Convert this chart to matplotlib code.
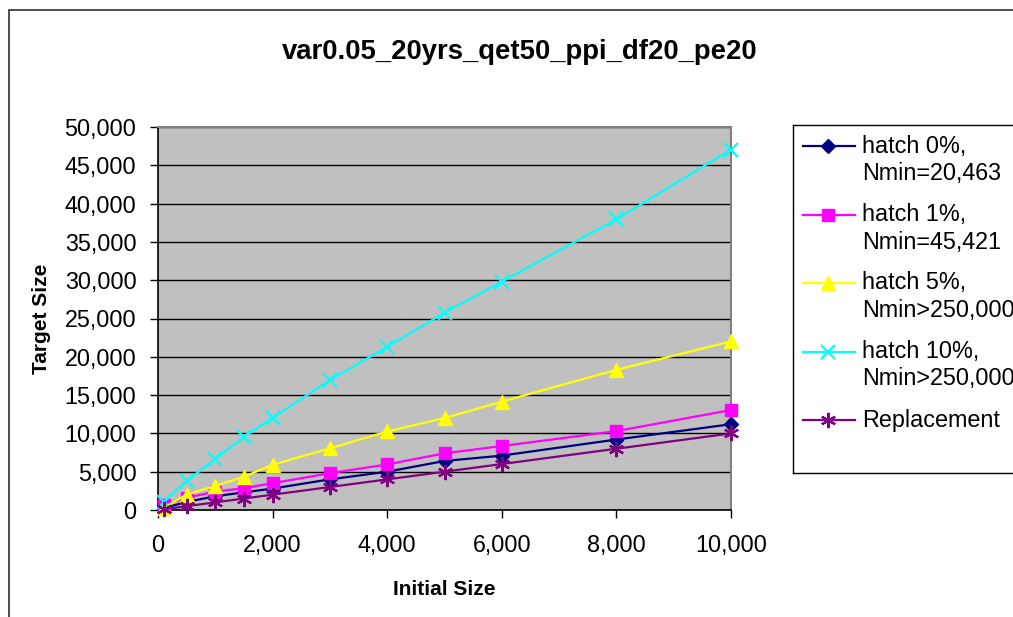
import matplotlib
matplotlib.use("Agg")
import matplotlib.pyplot as plt
from matplotlib.patches import Rectangle
from matplotlib.ticker import FuncFormatter, MultipleLocator

plt.rcParams["font.family"] = ["Liberation Sans", "DejaVu Sans"]

TITLE = "var0.05_20yrs_qet50_ppi_df20_pe20"

initial_size = [100, 500, 1000, 1500, 2000, 3000, 4000, 5000, 6000, 8000, 10000]
hatch_0 = [250, 1050, 1800, 2300, 2800, 4000, 5000, 6400, 7100, 9200, 11200]
hatch_1 = [600, 1600, 2400, 2850, 3500, 4800, 5950, 7400, 8350, 10300, 13050]
hatch_5 = [300, 2000, 3150, 4350, 5900, 8050, 10250, 12000, 14150, 18300, 22000]
hatch_10 = [1050, 3800, 6650, 9550, 12050, 16950, 21300, 25750, 29800, 37950, 47050]
replacement = [100, 500, 1000, 1500, 2000, 3000, 4000, 5000, 6000, 8000, 10000]

labels = [
    ("hatch 0%,", "Nmin=20,463"),
    ("hatch 1%,", "Nmin=45,421"),
    ("hatch 5%,", "Nmin>250,000"),
    ("hatch 10%,", "Nmin>250,000"),
    ("Replacement", None),
]

W, H = 1013, 617

# colour, marker, marker size, filled
styles = [
    ("#000080", "D", 7, True),
    ("#FF00FF", "s", 8, True),
    ("#FFFF00", "^", 9.5, True),
    ("#00FFFF", "x", 10, False),
    ("#800080", (6, 2, 0), 11, False),
]
series = [hatch_0, hatch_1, hatch_5, hatch_10, replacement]


def px_x(x):
    return x / W


def px_y(y):
    return 1 - y / H


fig = plt.figure(figsize=(W / 100, H / 100), dpi=100)

# outer chart frame (runs past the right and bottom edges)
fig.add_artist(Rectangle((px_x(8.5), -0.2), 1.5, px_y(10) + 0.2, transform=fig.transFigure,
                         fill=False, edgecolor="#303030", linewidth=1.2))

ax = fig.add_axes([px_x(158), px_y(510), 573 / W, 383 / H])
ax.set_facecolor("#C0C0C0")

for values, (color, marker, ms, filled) in zip(series, styles):
    ax.plot(initial_size, values, color=color, linewidth=1.6, marker=marker, markersize=ms,
            markerfacecolor=color if filled else "none", markeredgecolor=color,
            markeredgewidth=1.6 if not filled else 1.0, clip_on=False, zorder=3)

ax.set_xlim(0, 10000)
ax.set_ylim(0, 50000)
ax.xaxis.set_major_locator(MultipleLocator(2000))
ax.yaxis.set_major_locator(MultipleLocator(5000))
fmt = FuncFormatter(lambda v, _: f"{v:,.0f}")
ax.xaxis.set_major_formatter(fmt)
ax.yaxis.set_major_formatter(fmt)
ax.grid(True, axis="y", color="black", linewidth=1.0)
ax.set_axisbelow(True)
ax.tick_params(axis="both", direction="out", length=6, width=1.0, labelsize=16.8, colors="black")
ax.tick_params(axis="x", pad=11)
ax.tick_params(axis="y", pad=9.5)

for side in ("left", "bottom"):
    ax.spines[side].set_color("black")
    ax.spines[side].set_linewidth(1.2)
for side in ("top", "right"):
    ax.spines[side].set_color("#808080")
    ax.spines[side].set_linewidth(1.5)

ax.set_xlabel("Initial Size", fontsize=15, fontweight="bold", labelpad=17)
ax.set_ylabel("Target Size", fontsize=15, fontweight="bold", labelpad=10)

fig.text(px_x(520), px_y(59), TITLE, ha="center", va="baseline", fontsize=19.8, fontweight="bold")

# legend box, drawn in pixel coordinates of its own axes
lg = fig.add_axes([px_x(793), px_y(473), 260 / W, (473 - 125) / H])
lg.set_xlim(0, 260)
lg.set_ylim(348, 0)
lg.set_xticks([])
lg.set_yticks([])
lg.set_facecolor("white")
for side in lg.spines.values():
    side.set_color("black")
    side.set_linewidth(1.0)

row_gap = 68.5
for i, ((first, second), (color, marker, ms, filled)) in enumerate(zip(labels, styles)):
    yc = 21 + i * row_gap
    lg.plot([10, 62], [yc, yc], color=color, linewidth=1.6)
    lg.plot([35], [yc], color=color, marker=marker, markersize=ms,
            markerfacecolor=color if filled else "none", markeredgecolor=color,
            markeredgewidth=1.6 if not filled else 1.0)
    lg.text(69, yc, first, fontsize=16.8, va="center", ha="left")
    if second:
        lg.text(69, yc + 27.5, second, fontsize=16.8, va="center", ha="left")

fig.savefig("out.png", dpi=100)
